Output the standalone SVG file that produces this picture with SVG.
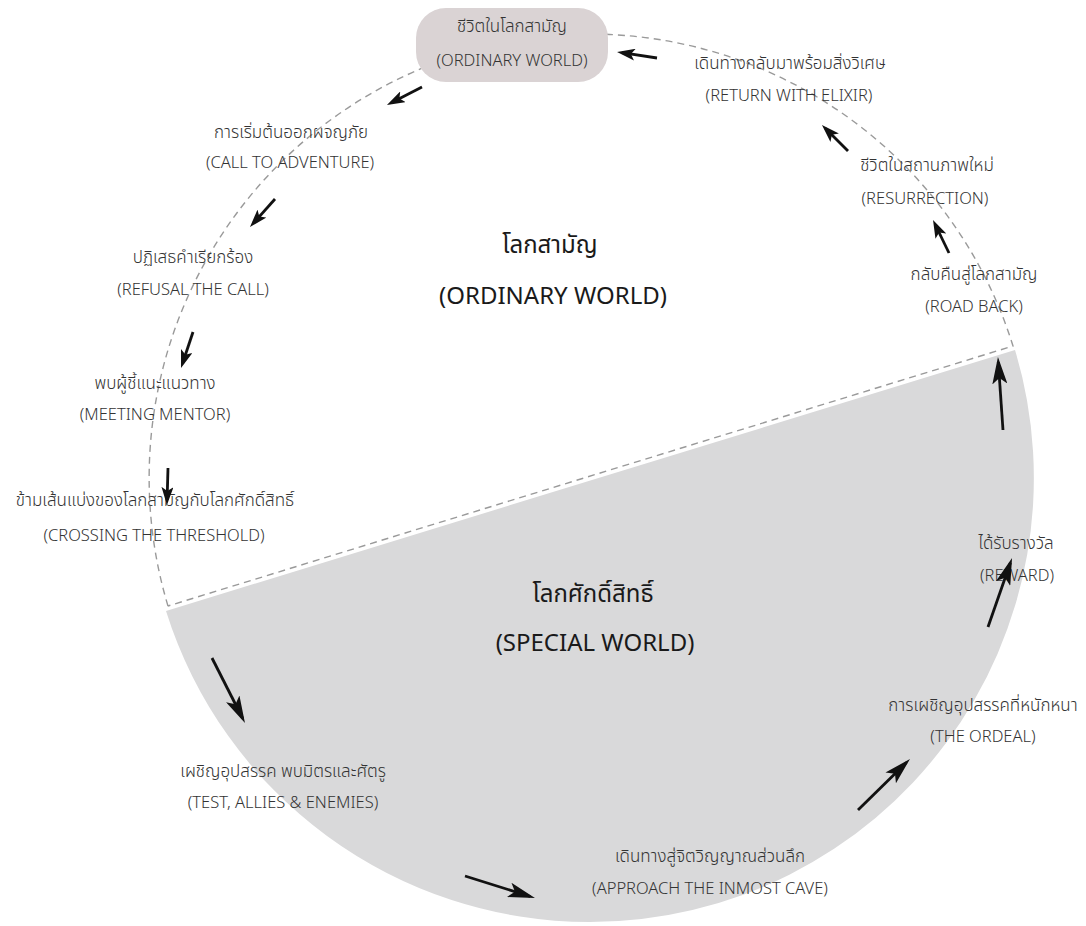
<svg xmlns="http://www.w3.org/2000/svg" width="1086" height="926" viewBox="0 0 1086 926">
<defs>
<style>
.lbl{font-family:"Noto Sans Thai","Open Sans","Noto Sans","DejaVu Sans",sans-serif;font-size:16.5px;fill:#333;text-anchor:middle;font-weight:300}
.th{font-size:17px}
.big{font-family:"Noto Sans Thai","Open Sans","Noto Sans","DejaVu Sans",sans-serif;font-size:24px;fill:#1a1a1a;text-anchor:middle}
.dash{fill:none;stroke:#9a9a9a;stroke-width:1.4;stroke-dasharray:7 5}
.arr{stroke:#111;stroke-width:2.8;fill:none}
.s{marker-end:url(#ah-s)}
.l{marker-end:url(#ah-l)}
</style>
<marker id="ah-s" markerUnits="userSpaceOnUse" markerWidth="18" markerHeight="12" refX="13" refY="6" orient="auto"><path d="M0,0 L18,6 L0,12 L4,6 z" fill="#111"/></marker>
<marker id="ah-l" markerUnits="userSpaceOnUse" markerWidth="27" markerHeight="15" refX="22" refY="7.5" orient="auto"><path d="M0,0 L27,7.5 L0,15 L6,7.5 z" fill="#111"/></marker>
</defs>
<rect width="1086" height="926" fill="#fff"/>
<g id="special-world-area">
<path d="M166,611 A444,444 0 0 0 590,922 A444,444 0 0 0 1015,350 Z" fill="#d9d9da"/>
</g>
<g id="ordinary-world-outline">
<path class="dash" d="M168,606 A444,444 0 0 1 590,34 A444,444 0 0 1 1013,346 L168,606"/>
</g>
<g id="ordinary-world-box">
<rect x="416" y="8" width="192" height="74" rx="30" fill="#dad3d4"/>
<text class="lbl th" x="512" y="32">ชีวิตในโลกสามัญ</text>
<text class="lbl" x="512" y="66">(ORDINARY WORLD)</text>
</g>
<g id="center-ordinary">
<text class="big" x="550" y="253" font-size="26">โลกสามัญ</text>
<text class="big" x="553" y="304">(ORDINARY WORLD)</text>
</g>
<g id="center-special">
<text class="big" x="593" y="602" font-size="26">โลกศักดิ์สิทธิ์</text>
<text class="big" x="595" y="651">(SPECIAL WORLD)</text>
</g>
<g id="call-to-adventure">
<text class="lbl th" x="291" y="138">การเริ่มต้นออกผจญภัย</text>
<text class="lbl" x="290" y="168">(CALL TO ADVENTURE)</text>
</g>
<g id="refusal">
<text class="lbl th" x="193" y="263">ปฏิเสธคำเรียกร้อง</text>
<text class="lbl" x="193" y="295">(REFUSAL THE CALL)</text>
</g>
<g id="meeting-mentor">
<text class="lbl th" x="155" y="389">พบผู้ชี้แนะแนวทาง</text>
<text class="lbl" x="155" y="420">(MEETING MENTOR)</text>
</g>
<g id="crossing">
<text class="lbl th" x="155" y="506">ข้ามเส้นแบ่งของโลกสามัญกับโลกศักดิ์สิทธิ์</text>
<text class="lbl" x="154" y="541">(CROSSING THE THRESHOLD)</text>
</g>
<g id="test-allies">
<text class="lbl th" x="283" y="777">เผชิญอุปสรรค พบมิตรและศัตรู</text>
<text class="lbl" x="283" y="808">(TEST, ALLIES &amp; ENEMIES)</text>
</g>
<g id="approach">
<text class="lbl th" x="710" y="862">เดินทางสู่จิตวิญญาณส่วนลึก</text>
<text class="lbl" x="710" y="894">(APPROACH THE INMOST CAVE)</text>
</g>
<g id="ordeal">
<text class="lbl th" x="983" y="711">การเผชิญอุปสรรคที่หนักหนา</text>
<text class="lbl" x="983" y="742">(THE ORDEAL)</text>
</g>
<g id="reward">
<text class="lbl th" x="1016" y="549">ได้รับรางวัล</text>
<text class="lbl" x="1017" y="581">(REWARD)</text>
</g>
<g id="road-back">
<text class="lbl th" x="974" y="280">กลับคืนสู่โลกสามัญ</text>
<text class="lbl" x="974" y="312">(ROAD BACK)</text>
</g>
<g id="resurrection">
<text class="lbl th" x="927" y="171">ชีวิตในสถานภาพใหม่</text>
<text class="lbl" x="925" y="204">(RESURRECTION)</text>
</g>
<g id="return-elixir">
<text class="lbl th" x="790" y="69">เดินทางกลับมาพร้อมสิ่งวิเศษ</text>
<text class="lbl" x="789" y="101">(RETURN WITH ELIXIR)</text>
</g>
<g id="connectors">
<line class="arr s" x1="657" y1="58" x2="622" y2="52.7"/>
<line class="arr s" x1="422" y1="87" x2="391.4" y2="102.7"/>
<line class="arr s" x1="275" y1="199" x2="253.3" y2="223.3"/>
<line class="arr s" x1="193" y1="332" x2="182.6" y2="363.3"/>
<line class="arr s" x1="168" y1="468" x2="167.1" y2="500"/>
<line class="arr l" x1="212" y1="658" x2="242.7" y2="718.5"/>
<line class="arr l" x1="465" y1="876" x2="530.2" y2="896.5"/>
<line class="arr l" x1="858" y1="810" x2="906.4" y2="762.5"/>
<line class="arr l" x1="988" y1="627" x2="1010.4" y2="562.7"/>
<line class="arr l" x1="1003" y1="430" x2="998.3" y2="362"/>
<line class="arr s" x1="949" y1="253" x2="935.2" y2="224.5"/>
<line class="arr s" x1="848" y1="151" x2="825.5" y2="128.5"/>
</g>
</svg>
